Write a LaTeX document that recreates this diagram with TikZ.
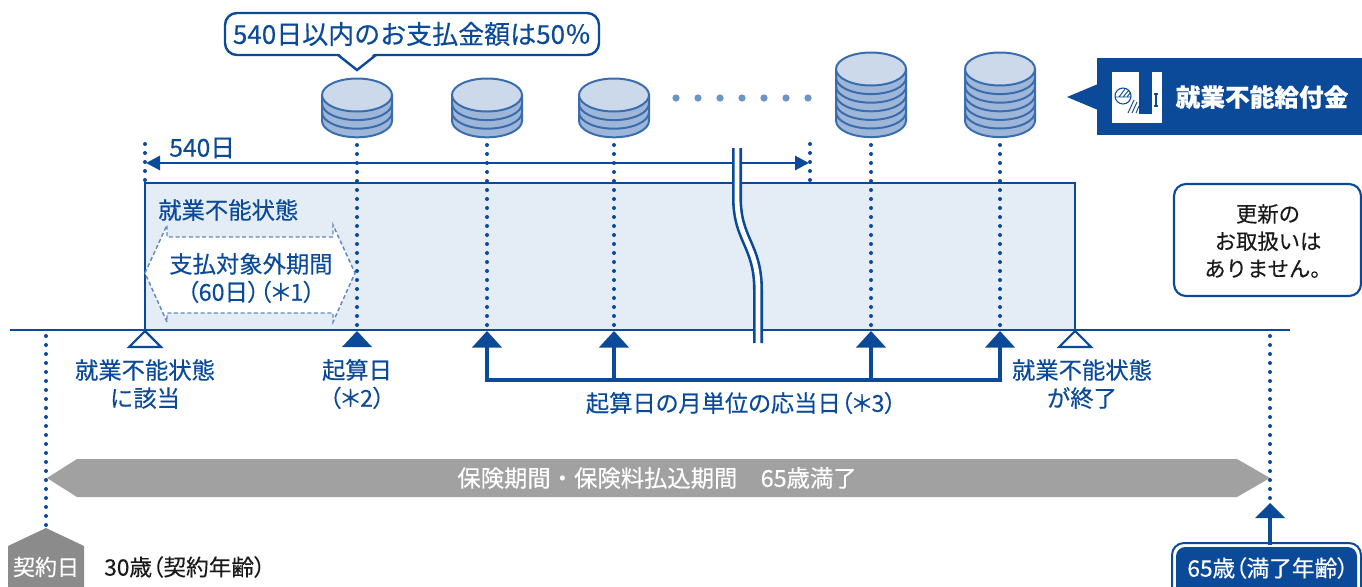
\documentclass[tikz,border=0pt]{standalone}
\usepackage{fontspec}
\setmainfont{Noto Sans CJK JP}[FakeBold=0.3]
\newfontfamily\propfont{Noto Sans CJK JP}[FakeBold=0.3, RawFeature=+palt]
\usetikzlibrary{arrows.meta}

\definecolor{bluedk}{HTML}{0B4A98}
\definecolor{panelfill}{HTML}{E4ECF6}
\definecolor{coinface}{HTML}{CCD9EA}
\definecolor{coinband}{HTML}{9EB7D9}
\definecolor{coinline}{HTML}{3A6DAE}
\definecolor{dotblue}{HTML}{6B94C7}
\definecolor{dashblue}{HTML}{6189C0}
\definecolor{bandgrey}{HTML}{A0A1A0}
\definecolor{taggrey}{HTML}{8A8B8A}
\definecolor{inkblack}{HTML}{1A1A1A}

\tikzset{
  lbl/.style={text=bluedk, font=\fontsize{17.5}{21}\selectfont, inner sep=0pt, align=center},
  plbl/.style={lbl, font=\propfont\fontsize{17.5}{21}\selectfont},
  dotv/.style={draw=bluedk, line width=3pt, line cap=round, dash pattern=on 0pt off 6.75pt},
  axisline/.style={draw=bluedk, line width=1.6pt},
  stemline/.style={draw=bluedk, line width=2.6pt},
  marktri/.style={fill=bluedk},
  opentri/.style={draw=bluedk, fill=white, line width=1.6pt},
  coinstroke/.style={draw=coinline, line width=1.5pt},
}

% a stack of coins: x, face-centre y, number of rims
\newcommand{\coinpile}[3]{%
  \pgfmathsetmacro\cpbot{#2+#3*8.6}%
  \pgfmathtruncatemacro\cpinner{#3-1}%
  \draw[coinstroke, fill=coinband] (#1-35,#2) -- (#1-35,\cpbot)
     arc[start angle=180, end angle=0, x radius=35, y radius=16.5] -- (#1+35,#2) -- cycle;
  \foreach \k in {1,...,\cpinner}{%
    \draw[coinstroke] (#1-35,{#2+\k*8.6})
       arc[start angle=180, end angle=0, x radius=35, y radius=16.5];
  }%
  \draw[coinstroke, fill=coinface] (#1,#2) ellipse[x radius=35, y radius=16.5];
}

\begin{document}
\begin{tikzpicture}[x=0.75pt,y=-0.75pt]
\useasboundingbox (0,0) rectangle (1362,586);

% ---- incapacity period panel ----
\draw[fill=panelfill, draw=bluedk, line width=1.6pt] (145,183) rectangle (1075,330);
\draw[dashblue, fill=white, line width=1.1pt, dash pattern=on 3pt off 2pt]
  (145,273) -- (167,225) -- (167,237) -- (333,237) -- (333,225) -- (355,273)
  -- (333,322) -- (333,313) -- (167,313) -- (167,322) -- cycle;
\node[lbl, anchor=west] (inner) at (158,210) {就業不能状態};
\node[plbl] (excl) at (251,278) {支払対象外期間\\（60日）（＊1）};

% ---- main time axis ----
\coordinate (axL) at (10,330);
\coordinate (axR) at (1290,330);
\draw[axisline] (axL) -- (axR);

% dotted guides
\foreach \gx/\gt/\gb in {145/144/181, 810/144/181, 357/145/327, 487/145/327, 614/145/327, 871/145/327, 1000/145/327}{
  \draw[dotv] (\gx,\gt) -- (\gx,\gb);
}

% 540-day span
\coordinate (spanL) at (146,163);
\coordinate (spanR) at (809,163);
\draw[bluedk, line width=2.2pt, {Triangle[length=10.5pt,width=10.5pt]}-{Triangle[length=10.5pt,width=10.5pt]}] (spanL) -- (spanR);
\node[lbl, anchor=west, font=\fontsize{18.5}{22}\selectfont] (d540) at (169,148) {540日};

% break mark
\draw[bluedk, line width=7.5pt]
  (737,148) -- (737,198) .. controls (737,240) and (758,245) .. (758,290) -- (758,343);
\draw[white, line width=3.6pt]
  (737,146) -- (737,198) .. controls (737,240) and (758,245) .. (758,290) -- (758,345);

% ---- coins ----
\coinpile{357}{95}{3}
\coinpile{487}{95}{3}
\coinpile{614}{95}{3}
\coinpile{871}{69}{6}
\coinpile{1000}{69}{6}
\foreach \dx in {0,...,6}{
  \fill[dotblue] ({676+\dx*22},98) circle[radius=3.6];
}

% callout above the first payment
\draw[bluedk, fill=white, line width=1.8pt, rounded corners=9pt] (225,13) rectangle (599,55);
\fill[white] (337,52) -- (376,52) -- (357,69) -- cycle;
\draw[bluedk, line width=1.8pt, line join=miter] (338,55) -- (357,70) -- (376,55);
\node[lbl, font=\fontsize{19.5}{23}\selectfont] (call) at (412,34) {540日以内のお支払金額は50％};

% benefit banner
\fill[bluedk] (1097,58) rectangle (1362,135);
\fill[bluedk] (1067,97) -- (1098,84) -- (1098,110) -- cycle;
\fill[white] (1112,72) rectangle (1162,123);
\fill[bluedk] (1139,72) rectangle (1152,114);
\draw[bluedk, line width=0.8pt] (1123,96) circle[radius=8];
\draw[bluedk, line width=0.7pt] (1115,97) -- (1131,97)
  (1119,97) -- (1125,89) (1123,97) -- (1129,90) (1127,97) -- (1130,93);
\draw[bluedk, line width=0.7pt] (1128,113) -- (1134,100) (1132,113) -- (1137,102) (1136,113) -- (1139,106);
\draw[bluedk, line width=0.8pt] (1154,94) -- (1158,94) (1156,94) -- (1156,106) (1154,106) -- (1158,106);
\node[text=white, font=\bfseries\fontsize{18.5}{22}\selectfont, inner sep=0pt] (bnr) at (1262,97) {就業不能給付金};

% no-renewal note
\draw[bluedk, fill=white, line width=1.6pt, rounded corners=9pt] (1174,184) rectangle (1361,296);
\node[text=inkblack, font=\fontsize{16}{20.5}\selectfont, align=center, inner sep=0pt] (renew) at (1268,241) {更新の\\お取扱いは\\ありません。};

% ---- markers on the axis ----
\draw[opentri] (145,331) -- (129,347) -- (161,347) -- cycle;
\draw[opentri] (1075,331) -- (1059,347) -- (1091,347) -- cycle;
\fill[marktri] (357,331) -- (342,347) -- (372,347) -- cycle;

\coordinate (m1) at (487,347);
\coordinate (m2) at (614,347);
\coordinate (m3) at (871,347);
\coordinate (m4) at (1000,347);
\coordinate (b1) at (487,380);
\coordinate (b4) at (1000,380);
\draw[stemline] (m1) -- (b1) -- (b4) -- (m4);
\draw[stemline] (m2) -- (614,380);
\draw[stemline] (m3) -- (871,380);
\foreach \tx in {487,614,871,1000}{
  \fill[marktri] (\tx,331) -- (\tx-15,347.5) -- (\tx+15,347.5) -- cycle;
}

\node[lbl] (start) at (145,384) {就業不能状態\\に該当};
\node[plbl] (kisan) at (357,384) {起算日\\（＊2）};
\node[plbl] (outou) at (741,403) {起算日の月単位の応当日（＊3）};
\node[lbl] (endst) at (1082,384) {就業不能状態\\が終了};

% ---- policy term ----
\fill[bandgrey] (47,478) -- (77,459) -- (1237,459) -- (1270,478) -- (1237,497) -- (77,497) -- cycle;
\node[text=white, font=\fontsize{17.5}{21}\selectfont, inner sep=0pt] (term) at (657,478) {保険期間・保険料払込期間　65歳満了};
\draw[dotv] (46,336) -- (46,526);
\draw[dotv] (1270,336) -- (1270,499);

% contract date tag
\fill[taggrey] (8,590) -- (8,546) -- (46,528) -- (84,546) -- (84,590) -- cycle;
\node[text=white, font=\fontsize{16.5}{20}\selectfont, inner sep=0pt] (ctag) at (46,567) {契約日};
\node[text=inkblack, font=\propfont\fontsize{17}{20}\selectfont, inner sep=0pt, anchor=west] (cage) at (104,567) {30歳（契約年齢）};

% maturity box
\coordinate (mt) at (1270,503);
\coordinate (mb) at (1270,545);
\draw[stemline] (1270,516) -- (mb);
\fill[marktri] (mt) -- (1255,518) -- (1285,518) -- cycle;
\draw[bluedk, line width=1.5pt, rounded corners=9pt] (1172,543) rectangle (1361,600);
\fill[bluedk, rounded corners=7pt] (1176,547) rectangle (1357,600);
\node[text=white, font=\propfont\fontsize{17}{20}\selectfont, inner sep=0pt] (mage) at (1268,568) {65歳（満了年齢）};

\end{tikzpicture}
\end{document}
